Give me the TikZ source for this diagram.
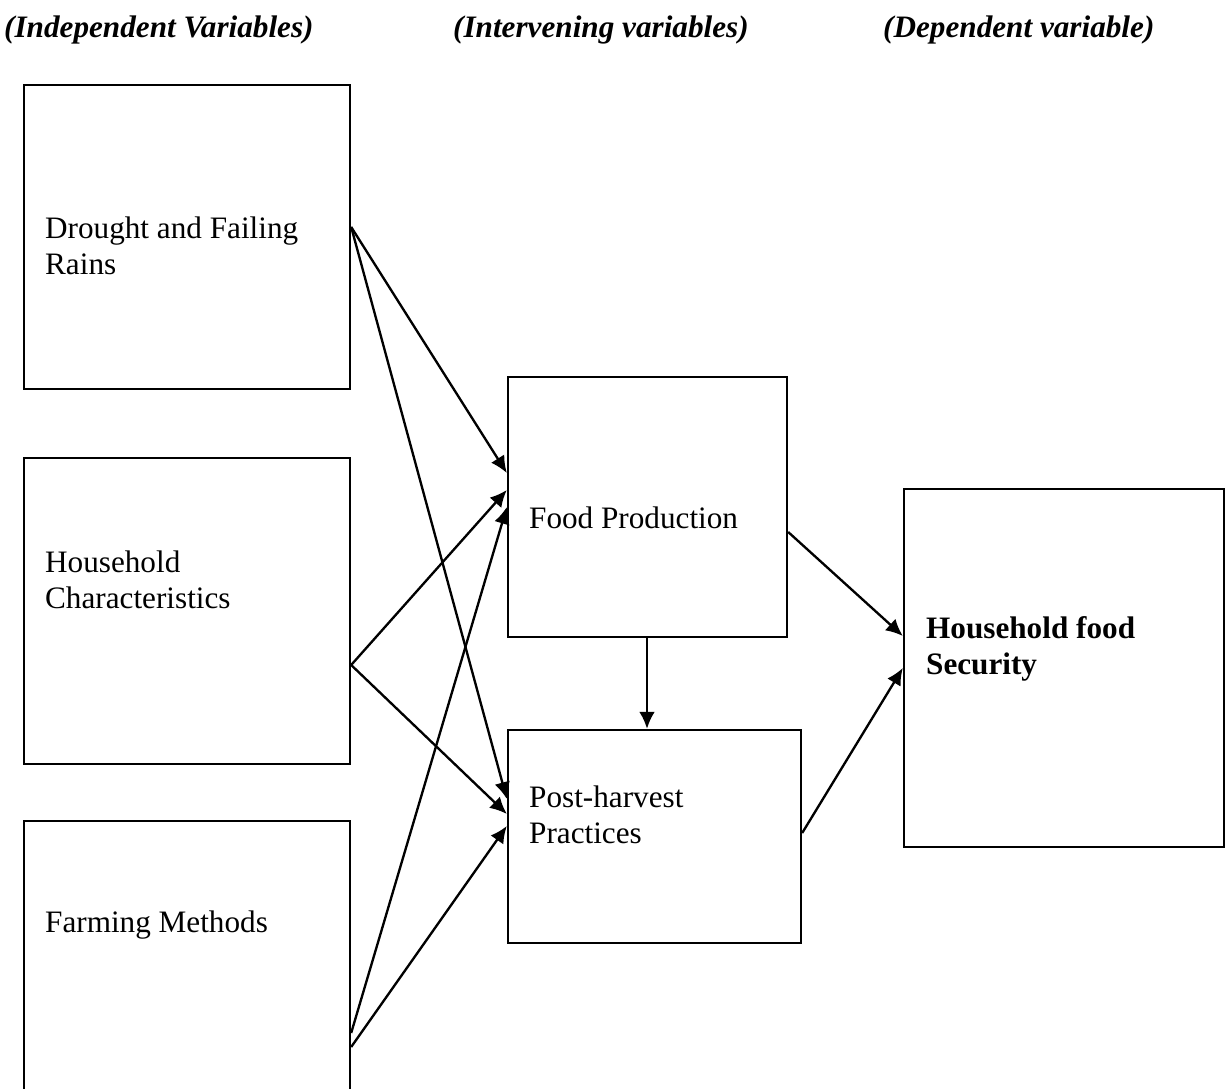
\documentclass[tikz,border=0pt]{standalone}
\usepackage{fontspec}
\setmainfont{Liberation Serif}
\usetikzlibrary{arrows.meta,fit}
\begin{document}
\begin{tikzpicture}[x=0.3846pt,y=-0.3846pt,
                    line width=0.9pt,
                    var box/.style={draw,rectangle,inner sep=0pt,line width=0.9pt},
                    var text/.style={anchor=west,align=left,inner sep=0pt,font=\fontsize{12}{13.8}\selectfont},
                    head text/.style={anchor=base west,inner sep=0pt,font=\fontsize{12}{13.8}\selectfont\bfseries\itshape},
                    link/.style={-{Latex[length=6.5pt,width=6pt]},line width=0.9pt}]

        \useasboundingbox (0,0) rectangle (1227,1089);
        \clip (0,0) rectangle (1227,1089);

        % Column headings
        \node[head text] (indep) at (3,38) {(Independent Variables)};
        \node[head text] (interv) at (452,38) {(Intervening variables)};
        \node[head text] (dep) at (882,38) {(Dependent variable)};

        % Define boxes
        \node[var box,fit={(24,85) (350,389)}] (drought) {};
        \node[var box,fit={(24,458) (350,764)}] (household) {};
        \node[var box,fit={(24,821) (350,1110)}] (farming) {};
        \node[var box,fit={(508,377) (787,637)}] (foodprod) {};
        \node[var box,fit={(508,730) (801,943)}] (postharv) {};
        \node[var box,fit={(904,489) (1224,847)}] (security) {};

        % Box texts
        \node[var text] (droughtT) at (44,246) {Drought and Failing\\Rains};
        \node[var text] (householdT) at (44,580) {Household\\Characteristics};
        \node[var text] (farmingT) at (44,925) {Farming Methods};
        \node[var text] (foodprodT) at (528,518) {Food Production};
        \node[var text] (postharvT) at (528,815) {Post-harvest\\Practices};
        \node[var text,font=\fontsize{12}{13.8}\selectfont\bfseries] (securityT) at (925,649) {Household food\\Security};

        % Define edges
        \draw[link] (drought.east |- 0,227) -- (foodprod.west |- 0,473);
        \draw[link] (drought.east |- 0,227) -- (postharv.west |- 0,799);
        \draw[link] (household.east |- 0,665) -- (foodprod.west |- 0,490);
        \draw[link] (household.east |- 0,665) -- (postharv.west |- 0,814);
        \draw[link] (farming.east |- 0,1033) -- (foodprod.west |- 0,507);
        \draw[link] (farming.east |- 0,1047) -- (postharv.west |- 0,826);
        \draw[link] (foodprod.south -| 647,0) -- (postharv.north -| 647,0);
        \draw[link] (foodprod.east |- 0,532) -- (security.west |- 0,636);
        \draw[link] (postharv.east |- 0,833) -- (security.west |- 0,668);
\end{tikzpicture}
\end{document}
